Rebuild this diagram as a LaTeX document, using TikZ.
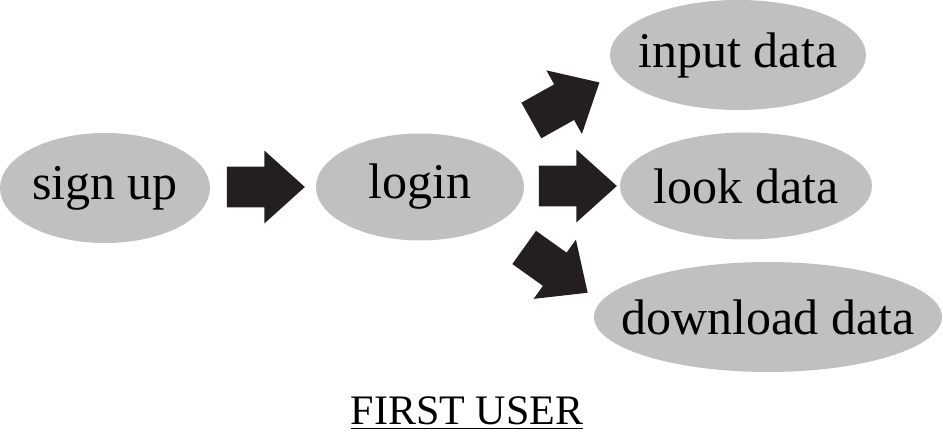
\documentclass[tikz,border=0pt]{standalone}
\usepackage{fontspec}
\setmainfont{Liberation Serif}
\usetikzlibrary{shapes.geometric, shapes.arrows, positioning}
\definecolor{ovalgray}{HTML}{C0C0C0}
\definecolor{arrowblack}{HTML}{231F20}
\tikzset{
  stage/.style={ellipse, fill=ovalgray, inner sep=0pt, font=\fontsize{25}{30}\selectfont},
  blockarrow/.style={single arrow, fill=arrowblack, inner xsep=0pt, inner ysep=10pt,
    minimum width=36pt, single arrow head extend=8pt, single arrow tip angle=84,
    minimum height=39pt}
}
\begin{document}
\begin{tikzpicture}[x=0.5pt, y=0.5pt]
  \useasboundingbox (0,0) rectangle (943,-438);

  % Stages
  \node[stage, minimum width=105pt, minimum height=55pt] (signup) at (105,-188) {\makebox[0pt]{sign up}};
  \node[stage, minimum width=104pt, minimum height=53.5pt] (login) at (420,-187) {\makebox[0pt]{login}};
  \node[stage, minimum width=128pt, minimum height=55pt] (input) at (738,-55) {\makebox[0pt]{input data}};
  \node[stage, minimum width=126pt, minimum height=53.5pt] (look) at (746,-186) {\makebox[0pt]{look data}};
  \node[stage, minimum width=174pt, minimum height=55pt] (download) at (768,-317) {\makebox[0pt]{download data}};

  % Block arrows
  \node[blockarrow] (toLogin) at (254.5,-187) {};
  \node[blockarrow, rotate=29.2] (toInput) at (555.5,-107) {};
  \node[blockarrow] (toLook) at (566.5,-186) {};
  \node[blockarrow, rotate=-35.5] (toDownload) at (546.7,-263.5) {};

  % Caption
  \node[font=\fontsize{21}{25}\selectfont] (caption) at (467,-413) {\underline{FIRST USER}};
\end{tikzpicture}
\end{document}
